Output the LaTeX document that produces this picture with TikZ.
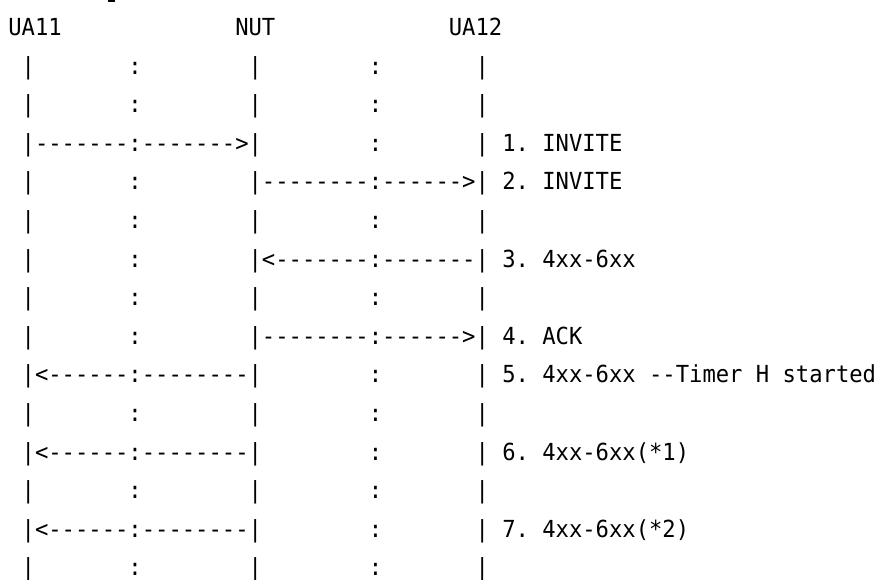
\documentclass[tikz,border=0pt]{standalone}
\usepackage{fontspec}
\newfontfamily\asciifont[FakeStretch=0.944]{DejaVu Sans Mono}
\newcommand\hy{-\kern0pt}
\begin{document}
\begin{tikzpicture}[x=1pt,y=-1pt,
  txt/.style={anchor=base west, inner sep=0pt, outer sep=0pt,
    font=\asciifont\fontsize{23.5}{28}\selectfont, text=black}]
\fill[white] (0,0) rectangle (879,579);
\useasboundingbox (0,0) rectangle (879,579);
\fill[black] (108,0) rectangle (115,1.7);
\begin{scope}[x=13.35pt, y=-38.6pt, shift={(8.3pt,-35.5pt)}]
  % header
  \node[txt] (ua11) at (0,0) {UA11};
  \node[txt] (nut)  at (17,0) {NUT};
  \node[txt] (ua12) at (33,0) {UA12};
  % lifelines and dotted midlines
  \foreach \r in {1,...,14} {
    \node[txt] (la\r) at (1,\r) {|};
    \node[txt] (ca\r) at (9,\r) {:};
    \node[txt] (lb\r) at (18,\r) {|};
    \node[txt] (cb\r) at (27,\r) {:};
    \node[txt] (lc\r) at (35,\r) {|};
  }
  % 1. INVITE  UA11 -> NUT
  \node[txt] (m1a) at (2,3) {\hy\hy\hy\hy\hy\hy\hy};
  \node[txt] (m1b) at (10,3) {\hy\hy\hy\hy\hy\hy\hy>};
  \node[txt] (n1) at (37,3) {1.};
  \node[txt] (t1) at (40,3) {INVITE};
  % 2. INVITE  NUT -> UA12
  \node[txt] (m2a) at (19,4) {\hy\hy\hy\hy\hy\hy\hy\hy};
  \node[txt] (m2b) at (28,4) {\hy\hy\hy\hy\hy\hy>};
  \node[txt] (n2) at (37,4) {2.};
  \node[txt] (t2) at (40,4) {INVITE};
  % 3. 4xx-6xx  UA12 -> NUT
  \node[txt] (m3a) at (19,6) {<\hy\hy\hy\hy\hy\hy\hy};
  \node[txt] (m3b) at (28,6) {\hy\hy\hy\hy\hy\hy\hy};
  \node[txt] (n3) at (37,6) {3.};
  \node[txt] (t3) at (40,6) {4xx-6xx};
  % 4. ACK  NUT -> UA12
  \node[txt] (m4a) at (19,8) {\hy\hy\hy\hy\hy\hy\hy\hy};
  \node[txt] (m4b) at (28,8) {\hy\hy\hy\hy\hy\hy>};
  \node[txt] (n4) at (37,8) {4.};
  \node[txt] (t4) at (40,8) {ACK};
  % 5. 4xx-6xx  NUT -> UA11
  \node[txt] (m5a) at (2,9) {<\hy\hy\hy\hy\hy\hy};
  \node[txt] (m5b) at (10,9) {\hy\hy\hy\hy\hy\hy\hy\hy};
  \node[txt] (n5) at (37,9) {5.};
  \node[txt] (t5) at (40,9) {4xx-6xx};
  \node[txt] (t5b) at (48,9) {\hy\hy Timer};
  \node[txt] (t5c) at (56,9) {H};
  \node[txt] (t5d) at (58,9) {started};
  % 6. retransmission
  \node[txt] (m6a) at (2,11) {<\hy\hy\hy\hy\hy\hy};
  \node[txt] (m6b) at (10,11) {\hy\hy\hy\hy\hy\hy\hy\hy};
  \node[txt] (n6) at (37,11) {6.};
  \node[txt] (t6) at (40,11) {4xx-6xx(*1)};
  % 7. retransmission
  \node[txt] (m7a) at (2,13) {<\hy\hy\hy\hy\hy\hy};
  \node[txt] (m7b) at (10,13) {\hy\hy\hy\hy\hy\hy\hy\hy};
  \node[txt] (n7) at (37,13) {7.};
  \node[txt] (t7) at (40,13) {4xx-6xx(*2)};
\end{scope}
\end{tikzpicture}
\end{document}
